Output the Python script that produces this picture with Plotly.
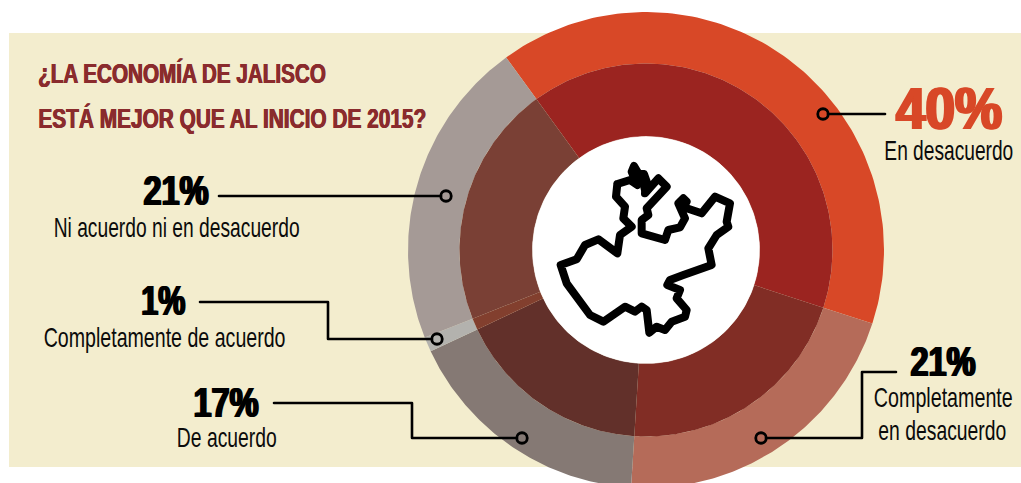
import json
import numpy as np
import plotly.graph_objects as go

CATEGORIES = ["En desacuerdo", "Completamente en desacuerdo", "De acuerdo",
              "Completamente de acuerdo", "Ni acuerdo ni en desacuerdo"]
VALUES = [40, 21, 17, 1, 21]
VALUE_LABELS = ["40%", "21%", "17%", "1%", "21%"]
TITLE_LINES = ["¿LA ECONOMÍA DE JALISCO", "ESTÁ MEJOR QUE AL INICIO DE 2015?"]

OUTER_COLORS = ["#D84827", "#B56B59", "#857974", "#B3B2AE", "#A59A96"]
INNER_COLORS = ["#9B2420", "#812D25", "#62302A", "#823F2E", "#7A4035"]
CREAM = "#F3EDCE"
CX, CY = 646, 250
R_OUT, R_MID, R_HOLE = 238, 186.5, 113.5
START = -36
W, H = 1021, 483
FONT = "Liberation Sans"

# Jalisco outline (zoomed crop coordinates)
OUTLINE = [(262,102),(300,90),(322,105),(305,65),(312,48),(325,70),(342,72),(350,95),(345,130),
           (385,85),(410,110),(350,175),(355,195),(335,210),(335,250),(405,270),(415,240),(450,232),
           (465,205),(445,160),(460,145),(470,155),(462,170),(470,175),(515,190),(555,140),(600,160),
           (590,215),(595,230),(560,255),(535,295),(545,345),(460,375),(420,390),(412,405),(450,420),
           (440,445),(470,480),(465,500),(425,515),(405,540),(380,530),(358,548),(350,480),(335,470),
           (315,485),(285,470),(245,495),(220,515),(180,495),(110,400),(92,345),(140,328),(165,285),
           (205,268),(262,310),(270,255),(305,230),(280,205),(285,170),(258,140),(262,102)]
OUTLINE_BLOBS = [[(312,60),(328,85),(338,90),(345,120)], [(452,155),(460,172)]]

def ring(a0, a1, r0, r1):
    t = np.radians(np.linspace(a0, a1, 120))
    xs = np.r_[CX + r1*np.sin(t), CX + r0*np.sin(t[::-1])]
    ys = np.r_[CY - r1*np.cos(t), CY - r0*np.cos(t[::-1])]
    return np.r_[xs, xs[0]], np.r_[ys, ys[0]]

fig = go.Figure()
edges = START + np.r_[0, np.cumsum(VALUES)] * 360 / sum(VALUES)
for rr, colors in (((R_MID, R_OUT), OUTER_COLORS), ((R_HOLE, R_MID), INNER_COLORS)):
    for i, name in enumerate(CATEGORIES):
        x, y = ring(edges[i], edges[i+1], *rr)
        fig.add_trace(go.Scatter(x=x, y=y, mode="lines", fill="toself", fillcolor=colors[i],
                                 line=dict(color=colors[i], width=0), name=name, hoverinfo="name"))

# white centre disc
t = np.radians(np.linspace(0, 360, 180))
fig.add_trace(go.Scatter(x=CX + R_HOLE*np.sin(t), y=CY - R_HOLE*np.cos(t), mode="lines", fill="toself",
                         fillcolor="white", line=dict(color="white", width=0.5), hoverinfo="skip"))

# state outline
for path in [OUTLINE] + OUTLINE_BLOBS:
    fig.add_trace(go.Scatter(x=[530 + p[0]/3 for p in path], y=[150 + p[1]/3 for p in path],
                             mode="lines", line=dict(color="#000", width=8), hoverinfo="skip"))

# leaders: last point is the centre of the ring marker
LEADERS = [[(885,114),(823,114)],
           [(896,372),(862,372),(862,438),(761,438)],
           [(274,403),(412,403),(412,438),(522,438)],
           [(200,302),(328,302),(328,339),(437,339)],
           [(219,196),(446,196)]]
for pts in LEADERS:
    (x0, y0), (x1, y1) = pts[-2], pts[-1]
    sx = 5 if x0 > x1 else -5
    line_pts = pts[:-1] + [(x1 + sx, y1)]
    fig.add_trace(go.Scatter(x=[p[0] for p in line_pts], y=[p[1] for p in line_pts], mode="lines",
                             line=dict(color="#000", width=2.6), hoverinfo="skip"))
    fig.add_trace(go.Scatter(x=[x1], y=[y1], mode="markers", hoverinfo="skip",
                             marker=dict(symbol="circle-open", size=10.5, color="#000",
                                         line=dict(width=2.8, color="#000"))))

TEXT_WIDTHS = {}

def txt(x, y, s, size, width, color="#0b0b0b", bold=False, shadow=None):
    font = dict(family=FONT, size=size, color=color, weight=700 if bold else 400)
    if shadow:
        font["shadow"] = shadow
    fig.add_annotation(x=x, y=y, text=s, showarrow=False, xanchor="center", yanchor="middle",
                       font=font, xref="x", yref="y")
    TEXT_WIDTHS[f"{s}|{size}"] = width

thick = "{w}px 0 0 {c}, -{w}px 0 0 {c}"
txt(182, 73, TITLE_LINES[0], 27, 288, "#8A2B2D", True, thick.format(w=0.5, c="#8A2B2D"))
txt(232, 118, TITLE_LINES[1], 27, 388, "#8A2B2D", True, thick.format(w=0.5, c="#8A2B2D"))
txt(949, 108, VALUE_LABELS[0], 60, 106, "#D84827", True, thick.format(w=1.6, c="#D84827"))
txt(949, 151, "En desacuerdo", 27, 129)
txt(943, 361, VALUE_LABELS[1], 42, 65, "#000", True, thick.format(w=1.2, c="#000"))
txt(943, 398, "Completamente", 27, 139)
txt(942.5, 431, "en desacuerdo", 27, 128)
txt(226, 402, VALUE_LABELS[2], 42, 65, "#000", True, thick.format(w=1.2, c="#000"))
txt(227, 438, "De acuerdo", 27, 100)
txt(163.5, 300, VALUE_LABELS[3], 42, 44, "#000", True, thick.format(w=1.2, c="#000"))
txt(164, 338, "Completamente de acuerdo", 27, 242)
txt(176, 190, VALUE_LABELS[4], 42, 65, "#000", True, thick.format(w=1.2, c="#000"))
txt(176, 228, "Ni acuerdo ni en desacuerdo", 27, 246)

fig.update_layout(
    width=W, height=H, margin=dict(l=0, r=0, t=0, b=0), showlegend=False,
    paper_bgcolor="white", plot_bgcolor="white",
    xaxis=dict(range=[0, W], visible=False, fixedrange=True),
    yaxis=dict(range=[H, 0], visible=False, fixedrange=True),
    shapes=[dict(type="rect", xref="x", yref="y", x0=9, x1=W, y0=33, y1=467,
                 fillcolor=CREAM, line_width=0, layer="below")],
)

# The reference face is condensed; squeeze each real text horizontally to its measured width.
post = """
document.body.style.margin='0';document.body.style.overflow='hidden';
var widths = %s;
document.querySelectorAll('text.annotation-text').forEach(function(t){
  var k = t.textContent + '|' + parseInt(t.style.fontSize);
  if (widths[k]) {
    var s = widths[k] / t.getComputedTextLength();
    var cx = parseFloat(t.getAttribute('x')) || 0;
    t.setAttribute('transform', 'translate(' + cx + ',0) scale(' + s + ',1) translate(' + (-cx) + ',0)');
  }
});
document.querySelectorAll('.scatterlayer .js-line').forEach(function(p){
  p.style.strokeLinejoin = 'round'; p.style.strokeLinecap = 'round';
});
""" % json.dumps(TEXT_WIDTHS, ensure_ascii=False)
fig.write_html("out.html", config=dict(displayModeBar=False), post_script=post)
